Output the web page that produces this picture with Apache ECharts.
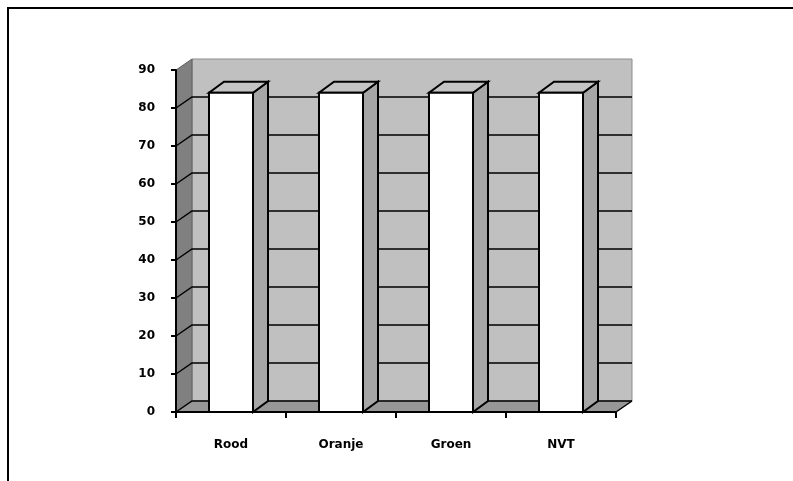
<!DOCTYPE html>
<html>
<head>
<meta charset="utf-8">
<script src="https://cdn.jsdelivr.net/npm/echarts@6/dist/echarts.min.js"></script>
<style>
  html, body { margin: 0; padding: 0; background: #fff; }
  #main { width: 793px; height: 481px; }
</style>
</head>
<body>
<div id="main"></div>
<script>
// data
var categories = ['Rood', 'Oranje', 'Groen', 'NVT'];
var values = [84, 84, 84, 84];
var gridValues = [0, 10, 20, 30, 40, 50, 60, 70, 80];

// depth of the 3d look, in pixels
var DX = 16, DY = -11;
var BAR_DX = 15, BAR_DY = -11;

var myChart = echarts.init(document.getElementById('main'));

function renderWalls(params, api) {
  if (params.dataIndex !== 0) return;
  var cs = params.coordSys;
  var x0 = cs.x, x1 = cs.x + cs.width;
  var yTop = api.coord([0, 90])[1];
  var yBase = api.coord([0, 0])[1];
  var children = [];
  // back wall
  children.push({
    type: 'rect',
    shape: { x: x0 + DX, y: yTop + DY, width: cs.width, height: yBase - yTop },
    style: { fill: '#c0c0c0', stroke: '#8c8c8c', lineWidth: 1 }
  });
  // side wall
  children.push({
    type: 'polygon',
    shape: { points: [[x0, yBase], [x0, yTop], [x0 + DX, yTop + DY], [x0 + DX, yBase + DY]] },
    style: { fill: '#808080', stroke: '#606060', lineWidth: 1 }
  });
  // floor
  children.push({
    type: 'polygon',
    shape: { points: [[x0, yBase], [x1, yBase], [x1 + DX, yBase + DY], [x0 + DX, yBase + DY]] },
    style: { fill: '#979797' }
  });
  gridValues.forEach(function (v) {
    var y = api.coord([0, v])[1];
    children.push({
      type: 'polyline',
      shape: { points: [[x0, y], [x0 + DX, y + DY], [x1 + DX, y + DY]] },
      style: { stroke: '#000', lineWidth: 1.5, fill: null }
    });
  });
  // floor right edge
  children.push({
    type: 'line',
    shape: { x1: x1, y1: yBase, x2: x1 + DX, y2: yBase + DY },
    style: { stroke: '#000', lineWidth: 1.5 }
  });
  return { type: 'group', children: children };
}

function renderBar(params, api) {
  var top = api.coord([api.value(0), api.value(1)]);
  var base = api.coord([api.value(0), 0]);
  var bw = api.size([1, 0])[0] * 0.4;
  var xl = top[0] - bw / 2, xr = top[0] + bw / 2;
  var yt = top[1], yb = base[1];
  var line = { stroke: '#000', lineWidth: 2, lineJoin: 'miter' };
  return {
    type: 'group',
    children: [
      {
        type: 'polygon',
        shape: { points: [[xr, yt], [xr + BAR_DX, yt + BAR_DY], [xr + BAR_DX, yb + BAR_DY], [xr, yb]] },
        style: Object.assign({ fill: '#a6a6a6' }, line)
      },
      {
        type: 'polygon',
        shape: { points: [[xl, yt], [xr, yt], [xr + BAR_DX, yt + BAR_DY], [xl + BAR_DX, yt + BAR_DY]] },
        style: Object.assign({ fill: '#c4c4c4' }, line)
      },
      {
        type: 'rect',
        shape: { x: xl, y: yt, width: bw, height: yb - yt },
        style: Object.assign({ fill: '#fff' }, line)
      }
    ]
  };
}

var labelFont = {
  fontFamily: 'DejaVu Sans',
  fontWeight: 'bold',
  fontSize: 12,
  color: '#000'
};

var option = {
  backgroundColor: '#fff',
  animation: false,
  graphic: [
    {
      type: 'rect',
      shape: { x: 8, y: 8, width: 900, height: 600 },
      style: { fill: null, stroke: '#000', lineWidth: 2 },
      z: 10
    }
  ],
  grid: { left: 176, right: 177, top: 70, bottom: 69 },
  xAxis: {
    type: 'category',
    data: categories,
    z: 5,
    axisLine: { lineStyle: { color: '#000', width: 2 } },
    axisTick: { show: true, length: 6, lineStyle: { color: '#000', width: 2 } },
    axisLabel: Object.assign({ margin: 27 }, labelFont),
    splitLine: { show: false }
  },
  yAxis: {
    type: 'value',
    min: 0,
    max: 90,
    interval: 10,
    z: 5,
    axisLine: { show: true, lineStyle: { color: '#000', width: 2 } },
    axisTick: { show: true, length: 5, lineStyle: { color: '#000', width: 2 } },
    axisLabel: Object.assign({ margin: 21 }, labelFont),
    splitLine: { show: false }
  },
  series: [
    {
      type: 'custom',
      z: 1,
      silent: true,
      renderItem: renderWalls,
      data: [[0, 0]]
    },
    {
      type: 'custom',
      z: 3,
      renderItem: renderBar,
      data: values.map(function (v, i) { return [i, v]; })
    }
  ]
};

myChart.setOption(option);
</script>
</body>
</html>
